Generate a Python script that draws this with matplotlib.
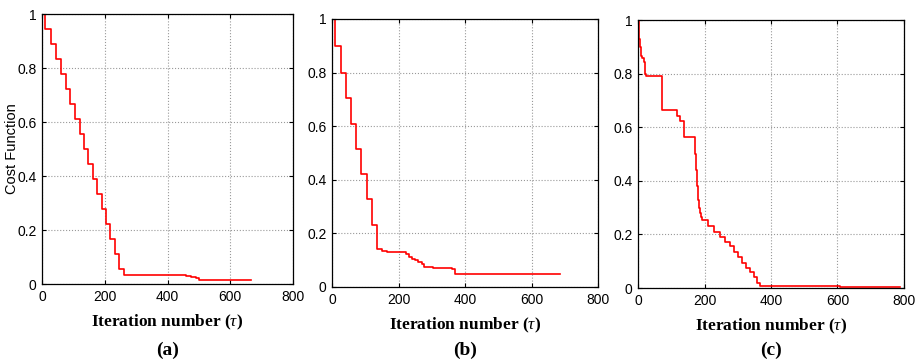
import matplotlib
matplotlib.use('Agg')
import matplotlib.pyplot as plt
from matplotlib.ticker import FormatStrFormatter

plt.rcParams['mathtext.fontset'] = 'custom'
plt.rcParams['mathtext.rm'] = 'Liberation Serif'
plt.rcParams['mathtext.it'] = 'Liberation Serif:italic'
plt.rcParams['mathtext.bf'] = 'Liberation Serif:bold'

# panel (a)
a_iter = [0, 11, 28, 45, 61, 76, 90, 105, 120, 134, 147, 162, 176, 190, 205, 218,
          233, 247, 262, 400, 460, 475, 490, 500, 510, 665]
a_cost = [1, 0.944, 0.889, 0.833, 0.778, 0.722, 0.667, 0.611, 0.556, 0.5, 0.444,
          0.389, 0.333, 0.278, 0.222, 0.167, 0.111, 0.056, 0.033, 0.032, 0.030,
          0.026, 0.021, 0.016, 0.013, 0.013]

# panel (b)
b_iter = [0, 10, 27, 42, 58, 73, 88, 104, 119, 134, 150, 164, 222, 232, 240, 250,
          260, 270, 278, 305, 360, 370, 500, 686]
b_cost = [1, 0.9, 0.8, 0.705, 0.61, 0.515, 0.42, 0.328, 0.232, 0.142, 0.135, 0.13,
          0.125, 0.113, 0.105, 0.1, 0.093, 0.085, 0.075, 0.072, 0.068, 0.05, 0.048,
          0.047]

# panel (c)
c_iter = [0, 3, 5, 8, 13, 17, 20, 25, 73, 117, 125, 138, 171, 173, 176, 179, 182,
          185, 188, 191, 211, 229, 248, 263, 276, 290, 301, 314, 326, 338, 348, 358,
          366, 487, 607, 788]
c_cost = [1, 0.93, 0.9, 0.866, 0.86, 0.845, 0.80, 0.79, 0.665, 0.643, 0.625, 0.565,
          0.5, 0.44, 0.38, 0.33, 0.30, 0.28, 0.265, 0.252, 0.23, 0.21, 0.19, 0.17,
          0.155, 0.135, 0.115, 0.095, 0.075, 0.06, 0.04, 0.02, 0.008, 0.006, 0.004,
          0.004]

panels = [(a_iter, a_cost, '(a)'), (b_iter, b_cost, '(b)'), (c_iter, c_cost, '(c)')]

W, H = 919, 362
# left, right, top, bottom in pixels
boxes = [(42, 293, 14, 284), (332, 598, 19, 287), (638, 904, 20, 288)]

tickfont = ['Liberation Sans Narrow', 'Liberation Sans']

fig = plt.figure(figsize=(W / 100, H / 100), dpi=100)

for i, ((x, y, tag), (l, r, t, b)) in enumerate(zip(panels, boxes)):
    ax = fig.add_axes([l / W, 1 - b / H, (r - l) / W, (b - t) / H])
    ax.plot(x, y, color='red', lw=1.2, drawstyle='steps-post')
    ax.set_xlim(0, 800)
    ax.set_ylim(0, 1)
    ax.set_xticks([0, 200, 400, 600, 800])
    ax.set_yticks([0, 0.2, 0.4, 0.6, 0.8, 1])
    ax.yaxis.set_major_formatter(FormatStrFormatter('%g'))
    ax.grid(True, linestyle=':', color='#999999', lw=0.8)
    ax.tick_params(direction='in', length=3, top=True, right=True, width=0.8,
                   labelsize=10, pad=4)
    for lab in ax.get_xticklabels() + ax.get_yticklabels():
        lab.set_family(tickfont)
    for s in ax.spines.values():
        s.set_linewidth(0.9)
    ax.set_xlabel(r'Iteration number ($\tau$)', family='Liberation Serif',
                  fontweight='bold', fontsize=12.5, labelpad=7)
    if i == 0:
        ax.set_ylabel('Cost Function', family='Liberation Sans', fontsize=10.5)
        ax.yaxis.set_label_coords(-(l - 19) / (r - l), 0.5)
    cx = (l + r) / 2 / W
    fig.text(cx, 1 - 350 / H, tag, family='Liberation Serif', fontweight='bold',
             fontsize=14, ha='center', va='center')

fig.savefig('out.png', dpi=100)
